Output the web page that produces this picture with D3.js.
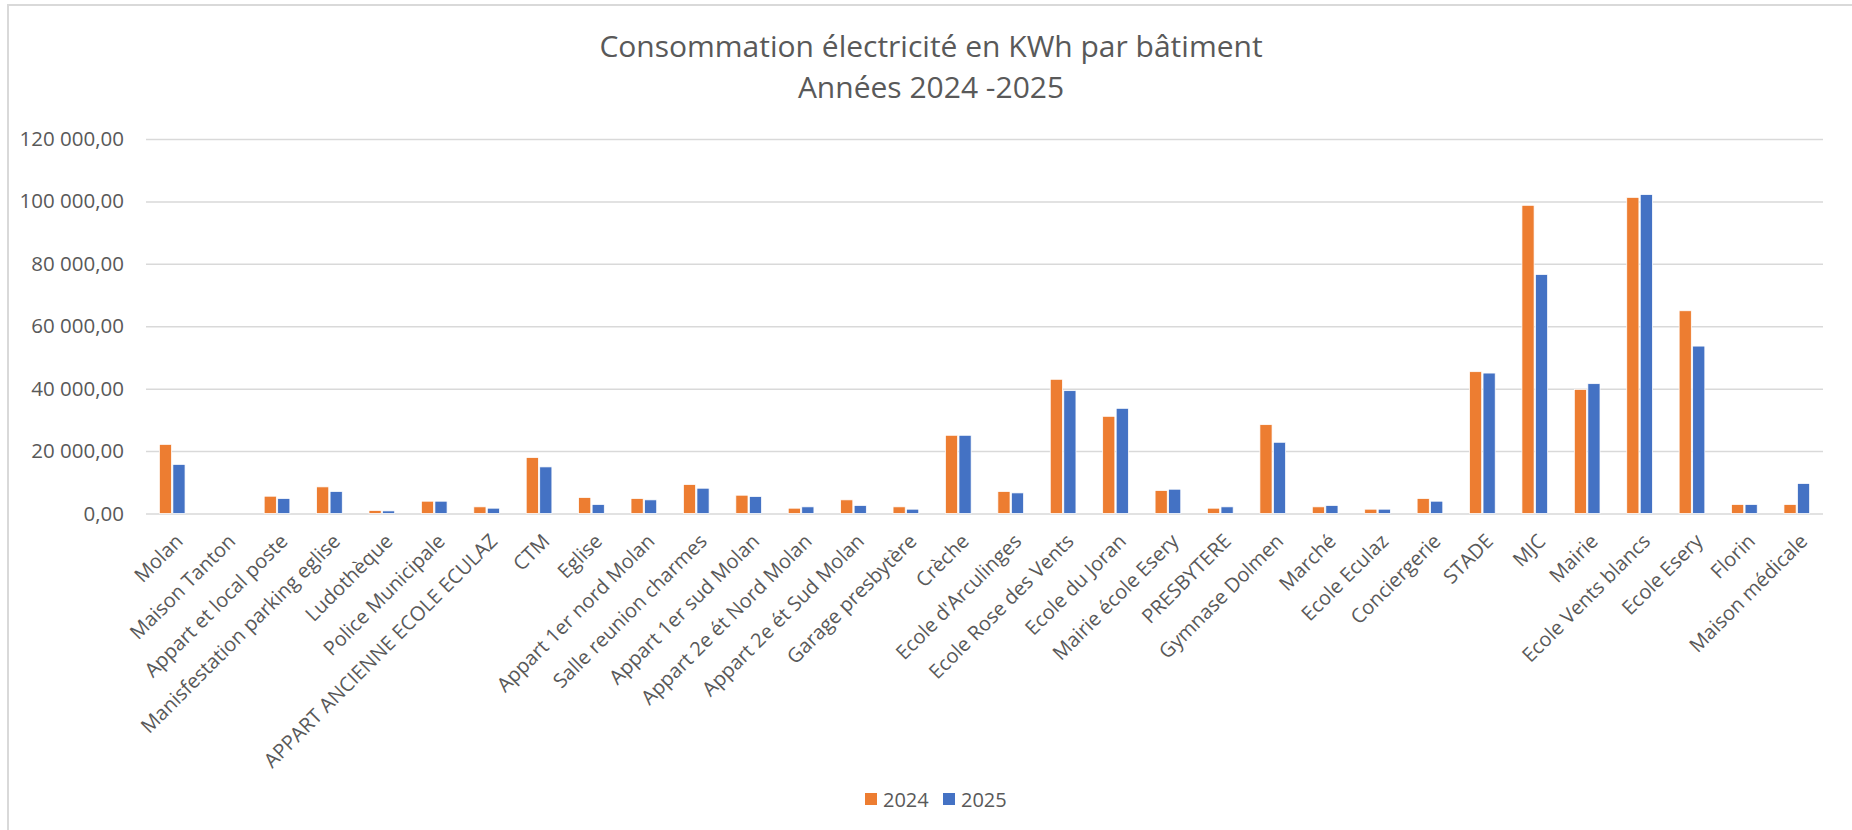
<!DOCTYPE html>
<html>
<head>
<meta charset="utf-8">
<script src="https://cdn.jsdelivr.net/npm/d3@7"></script>
<style>
  body { margin: 0; background: #fff; }
  text { font-family: "Open Sans", sans-serif; fill: #595959; }
</style>
</head>
<body>
<div id="graph"></div>
<script>
var width = 1852;
var height = 830;

// buildings, in the order of the sheet
var batiments = ["Molan", "Maison Tanton", "Appart et local poste", "Manisfestation parking eglise",
    "Ludothèque", "Police Municipale", "APPART ANCIENNE ECOLE ECULAZ", "CTM", "Eglise",
    "Appart 1er nord Molan", "Salle reunion charmes", "Appart 1er sud Molan", "Appart 2e ét Nord Molan",
    "Appart 2e ét Sud Molan", "Garage presbytère", "Crèche", "Ecole d'Arculinges", "Ecole Rose des Vents",
    "Ecole du Joran", "Mairie école Esery", "PRESBYTERE", "Gymnase Dolmen", "Marché", "Ecole Eculaz",
    "Conciergerie", "STADE", "MJC", "Mairie", "Ecole Vents blancs", "Ecole Esery", "Florin", "Maison médicale"];

var conso2024 = [22150, 0, 5540, 8530, 960, 3940, 2130, 17920, 5120, 4800, 9280, 5860, 1700, 4370, 2130,
    25060, 7040, 43000, 31140, 7360, 1700, 28470, 2130, 1380, 4800, 45440, 98750, 39780, 101300, 64960, 2880, 2880];

var conso2025 = [15740, 0, 4800, 7040, 830, 3940, 1700, 14930, 2880, 4370, 8100, 5430, 2130, 2560, 1380,
    25060, 6600, 39360, 33700, 7780, 2130, 22820, 2560, 1380, 3940, 45000, 76580, 41600, 102180, 53640, 2880, 9600];

var annees = ["2024", "2025"];
var couleurs = ["#ED7D31", "#4472C4"];
var yTicks = [0, 20000, 40000, 60000, 80000, 100000, 120000];

var plot = { left: 146, right: 1823, top: 139, bottom: 513.5 };

var svg = d3.select('#graph')
    .append('svg')
    .attr('width', width)
    .attr('height', height);

// chart border (only top and left visible in the capture)
svg.append('path')
    .attr('d', 'M8,' + height + 'V5H' + width)
    .attr('fill', 'none')
    .attr('stroke', '#d9d9d9')
    .attr('stroke-width', 2);

var title = svg.append('text')
    .attr('text-anchor', 'middle')
    .style('font-size', '30px');
title.append('tspan').attr('x', 931).attr('y', 57).text('Consommation électricité en KWh par bâtiment');
title.append('tspan').attr('x', 931).attr('y', 98).text('Années 2024 -2025');

var x0 = d3.scaleBand()
    .domain(batiments)
    .range([plot.left, plot.right])
    .paddingInner(0.51)
    .paddingOuter(0.255);

var x1 = d3.scaleBand()
    .domain(annees)
    .range([0, x0.bandwidth()])
    .paddingInner(0.1);

var y = d3.scaleLinear()
    .domain([0, 120000])
    .range([plot.bottom, plot.top]);

var fmt = function(v) {
    return d3.format(',.2f')(v).replace(/,/g, ' ').replace('.', ',');
};

// gridlines + y labels
var yAxis = d3.axisLeft(y)
    .tickValues(yTicks)
    .tickSize(-(plot.right - plot.left))
    .tickPadding(22)
    .tickFormat(fmt);

var gy = svg.append('g')
    .attr('transform', 'translate(' + plot.left + ',0)')
    .call(yAxis);
gy.select('.domain').remove();
gy.selectAll('line').attr('stroke', '#d9d9d9').attr('stroke-width', 1.5);
gy.selectAll('text').style('font-size', '20.5px').attr('fill', '#595959');

// bars
var groupes = svg.append('g')
    .selectAll('g')
    .data(batiments)
    .enter()
    .append('g')
    .attr('transform', function(d) { return 'translate(' + x0(d) + ',0)'; });

groupes.selectAll('rect')
    .data(function(d, i) {
        return [
            { annee: '2024', v: conso2024[i], c: couleurs[0] },
            { annee: '2025', v: conso2025[i], c: couleurs[1] }
        ];
    })
    .enter()
    .append('rect')
    .filter(function(d) { return d.v > 0; })
    .attr('x', function(d) { return x1(d.annee); })
    .attr('y', function(d) { return y(d.v); })
    .attr('width', x1.bandwidth())
    .attr('height', function(d) { return y(0) - y(d.v); })
    .attr('fill', function(d) { return d.c; })
    .attr('stroke', '#fff')
    .attr('stroke-width', 0.75);

// x labels, rotated
var xAxis = d3.axisBottom(x0).tickSize(0).tickPadding(0);
var gx = svg.append('g')
    .attr('transform', 'translate(0,' + plot.bottom + ')')
    .call(xAxis);
gx.select('.domain').remove();
gx.selectAll('text')
    .attr('text-anchor', 'end')
    .attr('dy', null)
    .attr('y', 0)
    .attr('transform', 'translate(12,29) rotate(-45)')
    .style('font-size', '20px')
    .attr('fill', '#595959');

// legend
var legende = svg.append('g').selectAll('g')
    .data(annees)
    .enter()
    .append('g')
    .attr('transform', function(d, i) { return 'translate(' + (865 + i * 78) + ',793)'; });
legende.append('rect')
    .attr('width', 12)
    .attr('height', 12)
    .attr('fill', function(d, i) { return couleurs[i]; });
legende.append('text')
    .attr('x', 18)
    .attr('y', 13.5)
    .style('font-size', '20px')
    .text(function(d) { return d; });
</script>
</body>
</html>
